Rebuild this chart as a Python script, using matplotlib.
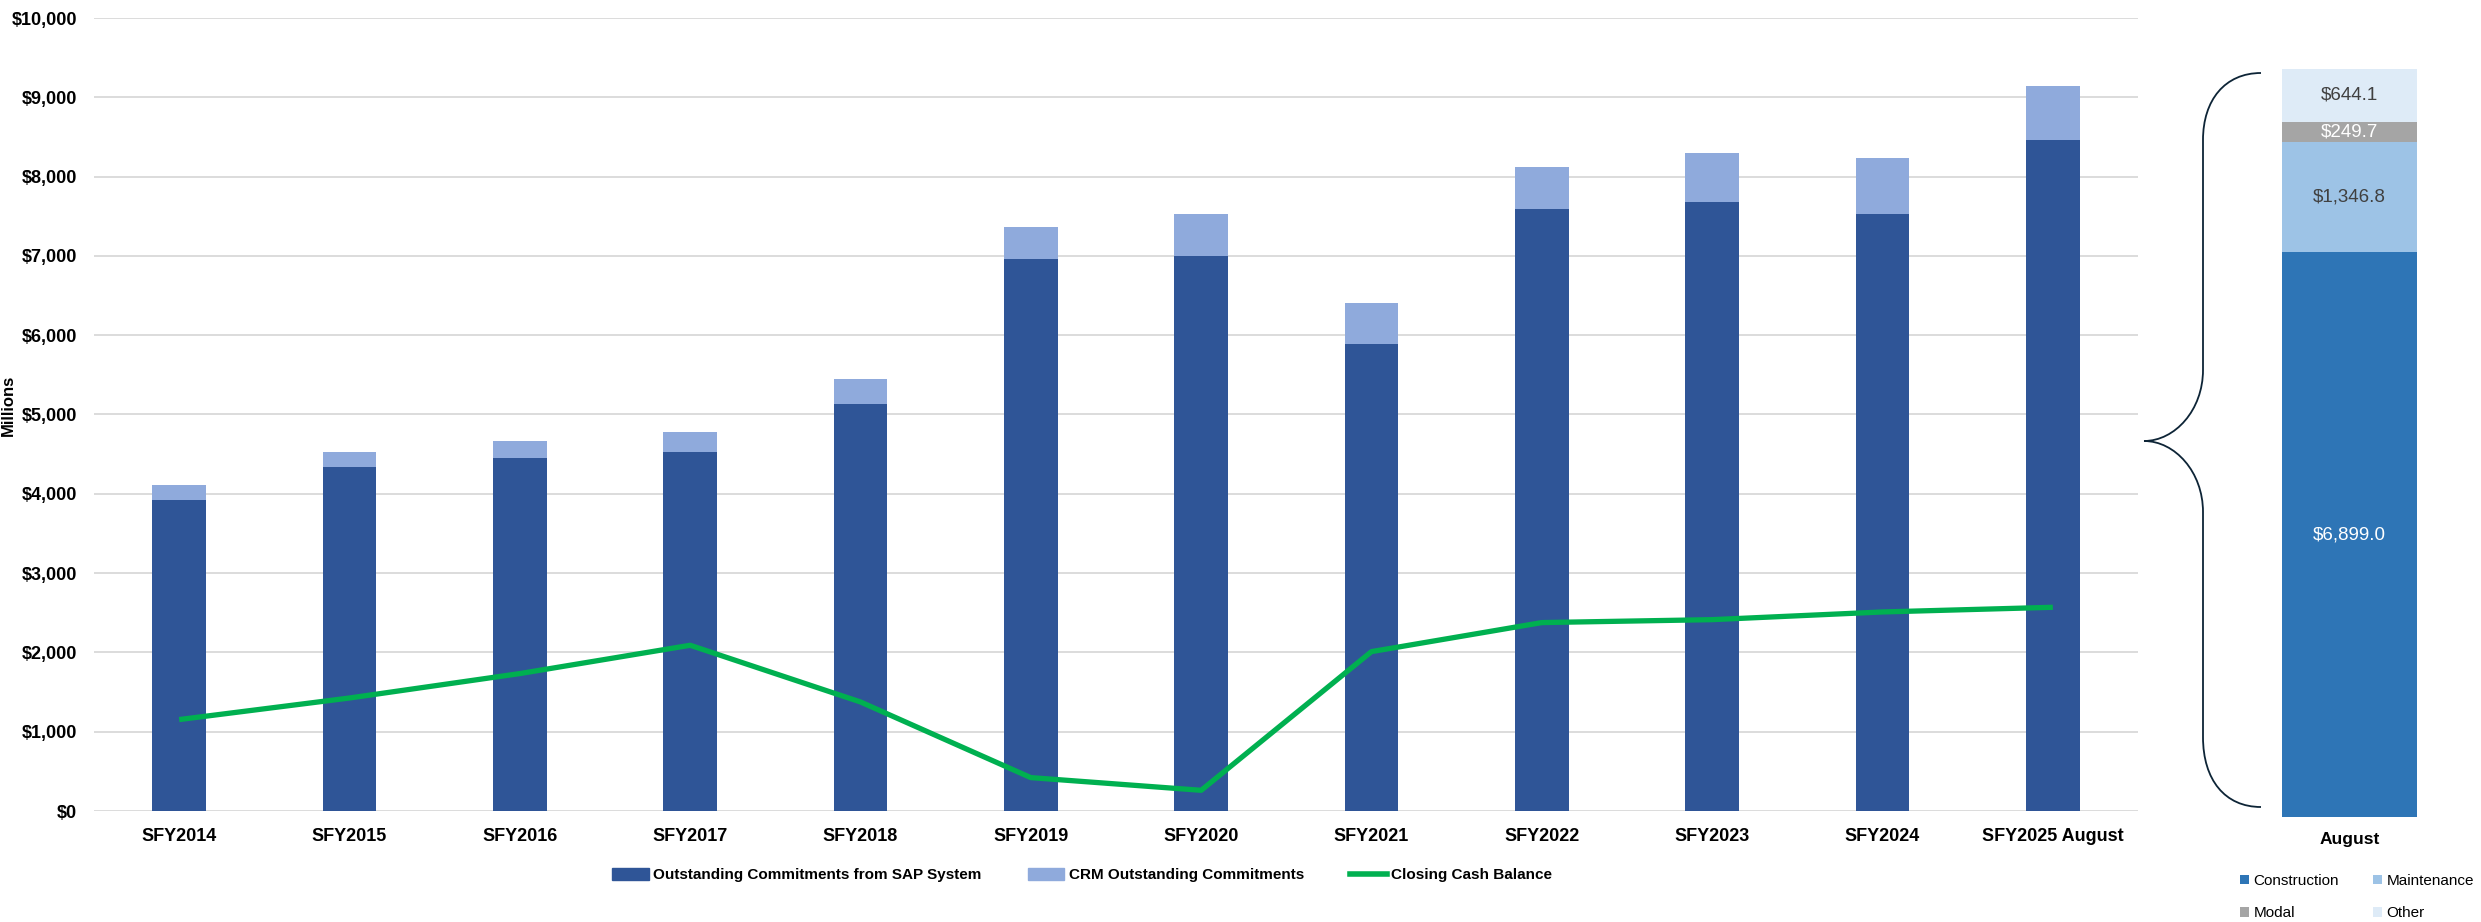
import matplotlib
matplotlib.use("Agg")
import matplotlib.pyplot as plt
from matplotlib.path import Path
from matplotlib.patches import PathPatch, Patch
from matplotlib.lines import Line2D
from matplotlib.ticker import FuncFormatter

plt.rcParams['font.family'] = ['Liberation Sans', 'DejaVu Sans']

# data (millions of dollars)
years = ['SFY2014', 'SFY2015', 'SFY2016', 'SFY2017', 'SFY2018', 'SFY2019',
         'SFY2020', 'SFY2021', 'SFY2022', 'SFY2023', 'SFY2024', 'SFY2025 August']
sap = [3927, 4338, 4448, 4527, 5138, 6966, 6995, 5894, 7591, 7684, 7532, 8458]
crm = [189, 189, 218, 249, 315, 399, 538, 508, 534, 609, 702, 681]
cash = [1153, 1425, 1733, 2090, 1375, 421, 261, 2010, 2376, 2413, 2510, 2569]

aug_cats = ['Construction', 'Maintenance', 'Modal', 'Other']
aug_vals = [6899.0, 1346.8, 249.7, 644.1]

W, H = 2481, 922
fig = plt.figure(figsize=(W / 100, H / 100), dpi=100)


def px(x0, y0, x1, y1):
    # pixel box -> figure fraction rect
    return [x0 / W, 1 - y1 / H, (x1 - x0) / W, (y1 - y0) / H]


# ---- main chart ----
ax = fig.add_axes(px(94, 18, 2138, 811))
x = range(len(years))
ax.bar(x, sap, width=0.315, color='#2F5597', label='Outstanding Commitments from SAP System', zorder=2)
ax.bar(x, crm, width=0.315, bottom=sap, color='#8FAADC', label='CRM Outstanding Commitments', zorder=2)
ax.plot(x, cash, color='#00B050', lw=3.8, label='Closing Cash Balance', zorder=3, solid_capstyle='butt')

ax.set_xlim(-0.5, len(years) - 0.5)
ax.set_ylim(0, 10000)
ax.set_yticks(range(0, 10001, 1000))
ax.yaxis.set_major_formatter(FuncFormatter(lambda v, p: '${:,.0f}'.format(v)))
ax.set_xticks(list(x))
ax.set_xticklabels(years)
ax.grid(axis='y', color='#D9D9D9', lw=1.3)
ax.set_axisbelow(True)
for s in ax.spines.values():
    s.set_visible(False)
ax.tick_params(length=0, labelsize=13)
ax.tick_params(axis='x', pad=12)
ax.tick_params(axis='y', pad=12)
for t in ax.get_xticklabels() + ax.get_yticklabels():
    t.set_fontweight('bold')

fig.text(8 / W, 1 - 405 / H, 'Millions', rotation=90, ha='center', va='center',
         fontsize=12, fontweight='bold')

h1 = Patch(color='#2F5597')
h2 = Patch(color='#8FAADC')
h3 = Line2D([], [], color='#00B050', lw=4)
fig.legend([h1, h2, h3],
           ['Outstanding Commitments from SAP System', 'CRM Outstanding Commitments', 'Closing Cash Balance'],
           loc='center left', bbox_to_anchor=(600 / W, 1 - 875 / H), ncol=3, frameon=False,
           prop={'weight': 'bold', 'size': 11}, handlelength=2.4, handleheight=0.8,
           handletextpad=0.3, columnspacing=3.0, borderpad=0.3)

# ---- August breakdown ----
ax2 = fig.add_axes(px(2282, 69, 2417, 817))
seg_colors = ['#2E75B6', '#9DC3E6', '#A5A5A5', '#DEEBF7']
txt_colors = ['white', '#404040', 'white', '#404040']
bottom = 0
bars = []
for cat, val, c, tc in zip(aug_cats, aug_vals, seg_colors, txt_colors):
    b = ax2.bar([0], [val], bottom=bottom, width=1.0, color=c, label=cat)
    bars.append(b)
    ax2.text(0, bottom + val / 2, '${:,.1f}'.format(val), ha='center', va='center',
             color=tc, fontsize=13.5)
    bottom += val
ax2.set_xlim(-0.5, 0.5)
ax2.set_ylim(0, sum(aug_vals))
ax2.set_yticks([])
ax2.set_xticks([0])
ax2.set_xticklabels(['August'], fontweight='bold', fontsize=12.5)
ax2.tick_params(length=0, pad=11)
for s in ax2.spines.values():
    s.set_visible(False)

fig.legend([bars[0], bars[2], bars[1], bars[3]], ['Construction', 'Modal', 'Maintenance', 'Other'],
           loc='upper left', bbox_to_anchor=(2240 / W, 1 - 874 / H), ncol=2, frameon=False,
           fontsize=11, handlelength=0.6, handleheight=0.6, handletextpad=0.3,
           columnspacing=2.2, labelspacing=1.2, borderaxespad=0, borderpad=0)

# ---- curly brace ----
ov = fig.add_axes([0, 0, 1, 1])
ov.set_xlim(0, W)
ov.set_ylim(H, 0)
ov.axis('off')
ov.patch.set_alpha(0)
verts = [(2261, 73), (2225, 73), (2203, 100), (2203, 140),
         (2203, 370),
         (2203, 410), (2175, 441), (2144, 441),
         (2175, 441), (2203, 472), (2203, 512),
         (2203, 737),
         (2203, 780), (2225, 807), (2261, 807)]
codes = [Path.MOVETO, Path.CURVE4, Path.CURVE4, Path.CURVE4,
         Path.LINETO,
         Path.CURVE4, Path.CURVE4, Path.CURVE4,
         Path.CURVE4, Path.CURVE4, Path.CURVE4,
         Path.LINETO,
         Path.CURVE4, Path.CURVE4, Path.CURVE4]
ov.add_patch(PathPatch(Path(verts, codes), fill=False, edgecolor='#0D2436', lw=1.3))

fig.savefig('out.png', dpi=100)
